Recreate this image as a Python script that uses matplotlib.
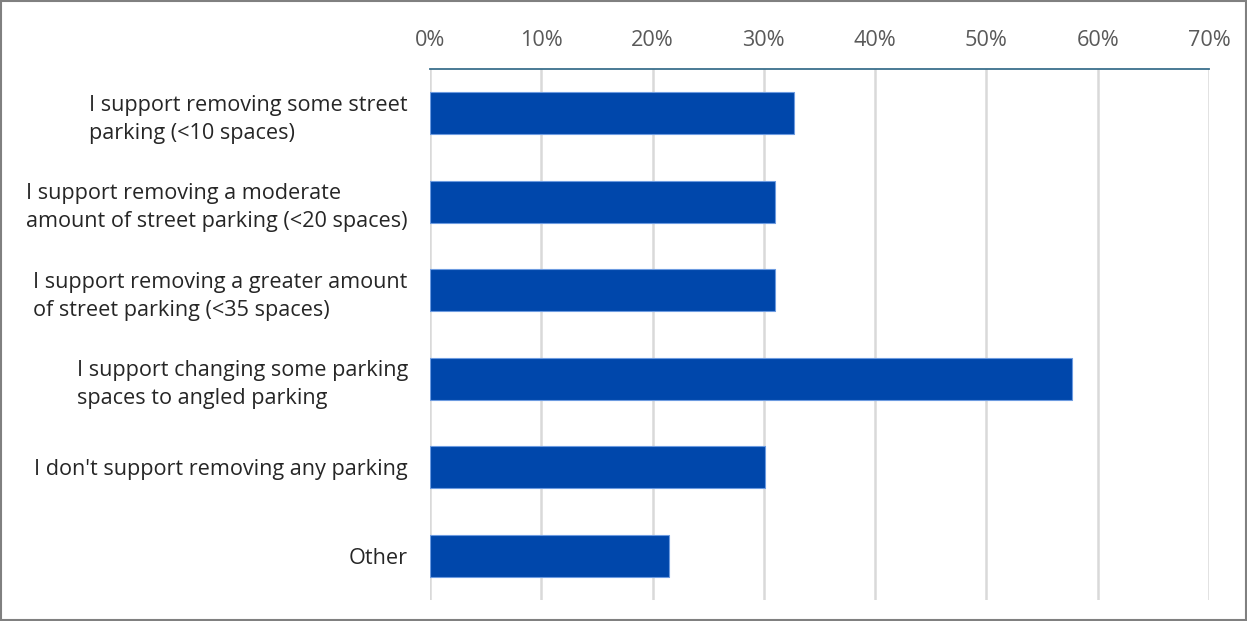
import matplotlib.pyplot as plt
from matplotlib.ticker import PercentFormatter

categories = [
    "I support removing some street\nparking (<10 spaces)",
    "I support removing a moderate\namount of street parking (<20 spaces)",
    "I support removing a greater amount\nof street parking (<35 spaces)",
    "I support changing some parking\nspaces to angled parking",
    "I don't support removing any parking",
    "Other",
]
shares = [32.7, 31.0, 31.0, 57.7, 30.1, 21.5]
x_ticks = [0, 10, 20, 30, 40, 50, 60, 70]

plt.rcParams["font.family"] = ["Open Sans", "DejaVu Sans"]

fig = plt.figure(figsize=(12.47, 6.21), dpi=100)
ax = fig.add_axes([430 / 1247, 21 / 621, 779 / 1247, 531 / 621])

ypos = list(range(len(categories)))
ax.barh(ypos, shares, height=0.47, color="#0047ab", edgecolor="#6d9be0",
        linewidth=0.8, zorder=3)
ax.set_ylim(len(categories) - 0.5, -0.5)
ax.set_yticks(ypos)
ax.set_yticklabels(categories, fontsize=15.6, color="#262626",
                   multialignment="left", linespacing=1.45)

ax.set_xlim(0, 70)
ax.set_xticks(x_ticks)
ax.xaxis.set_major_formatter(PercentFormatter(decimals=0))
ax.xaxis.tick_top()
ax.tick_params(axis="x", labelsize=15.6, labelcolor="#595959", length=0, pad=13)
ax.tick_params(axis="y", length=0, pad=16)
ax.grid(axis="x", color="#d9d9d9", linewidth=1.8, zorder=0)

for side in ["right", "bottom", "left"]:
    ax.spines[side].set_visible(False)
ax.spines["top"].set_color("#3a6f8c")
ax.spines["top"].set_linewidth(1.3)

# thin grey frame round the whole picture
fig.patches.append(plt.Rectangle((0.001, 0.002), 0.998, 0.996, transform=fig.transFigure,
                                 fill=False, edgecolor="#808080", linewidth=1.5))

fig.savefig("out.png", dpi=100)
